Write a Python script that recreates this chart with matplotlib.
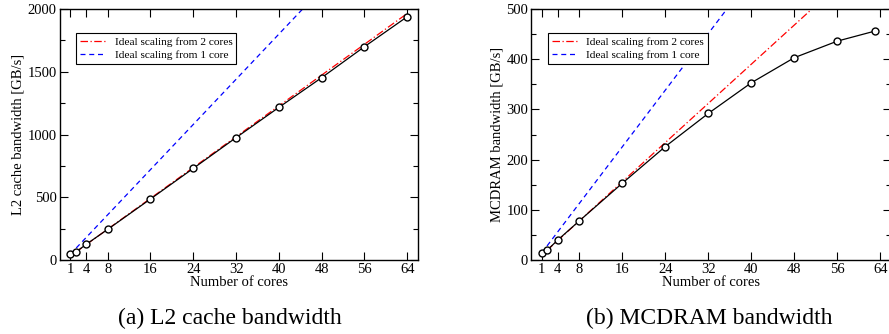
import numpy as np
import matplotlib
matplotlib.use("Agg")
import matplotlib.pyplot as plt
from matplotlib.ticker import MultipleLocator

plt.rcParams['font.family'] = ['Liberation Serif', 'DejaVu Serif']

l2_cores = [1, 2, 4, 8, 16, 24, 32, 40, 48, 56, 64]
l2_bw = [45, 61.4, 125, 244, 486, 730, 975, 1216, 1453, 1700, 1939]

mc_cores = [1, 2, 4, 8, 16, 24, 32, 40, 48, 56, 63]
mc_bw = [14.1, 19.5, 40, 78, 153, 226, 292, 353, 403, 436, 456]

xticks = [1, 4, 8, 16, 24, 32, 40, 48, 56, 64]


def draw_panel(ax, cores, bw, ymax, ystep, ylabel, caption, cap_x):
    cores = np.array(cores)
    bw = np.array(bw)
    xs2 = np.arange(2, 65)
    xs1 = np.arange(1, 65)
    # ideal scaling lines from the 2-core and 1-core measurements
    ax.plot(xs2, bw[1] / 2 * xs2, color="red", linestyle=(0, (6, 2, 1, 2)),
            linewidth=0.9, label="Ideal scaling from 2 cores")
    ax.plot(xs1, bw[0] * xs1, color="blue", linestyle=(0, (4, 3)),
            linewidth=0.9, label="Ideal scaling from 1 core")
    ax.plot(cores, bw, color="black", linewidth=0.9, marker="o", markersize=5,
            markerfacecolor="white", markeredgecolor="black", markeredgewidth=1.0)

    ax.set_xlim(-1, 66)
    ax.set_ylim(0, ymax)
    ax.set_xticks(xticks)
    ax.yaxis.set_major_locator(MultipleLocator(ystep))
    ax.yaxis.set_minor_locator(MultipleLocator(ystep / 2))
    ax.tick_params(which="both", direction="in", top=True, right=True, labelsize=10.5, pad=2)
    ax.tick_params(which="major", length=6, width=0.8)
    ax.tick_params(which="minor", length=3.5, width=0.8)
    for s in ax.spines.values():
        s.set_linewidth(1.0)
    ax.set_xlabel("Number of cores", fontsize=10.5, labelpad=0)
    ax.set_ylabel(ylabel, fontsize=10.5, labelpad=2)

    leg = ax.legend(loc="upper left", bbox_to_anchor=(0.047, 0.905), fontsize=8.2,
                    frameon=True, fancybox=False, edgecolor="black", framealpha=1,
                    handlelength=2.2, handletextpad=0.8, borderpad=0.35, labelspacing=0.3,
                    borderaxespad=0)
    leg.get_frame().set_linewidth(0.8)

    ax.figure.text(cap_x, 0.048, caption, ha="center", va="center", fontsize=17)


fig = plt.figure(figsize=(8.89, 3.34), dpi=100)
W, H = 889, 334
ax1 = fig.add_axes([59.5 / W, 74 / H, 358.5 / W, 251 / H])
ax2 = fig.add_axes([531 / W, 74 / H, 360 / W, 251 / H])

draw_panel(ax1, l2_cores, l2_bw, 2000, 500, "L2 cache bandwidth [GB/s]",
           "(a) L2 cache bandwidth", 230 / W)
draw_panel(ax2, mc_cores, mc_bw, 500, 100, "MCDRAM bandwidth [GB/s]",
           "(b) MCDRAM bandwidth", 709 / W)

fig.savefig("out.png", dpi=100)
